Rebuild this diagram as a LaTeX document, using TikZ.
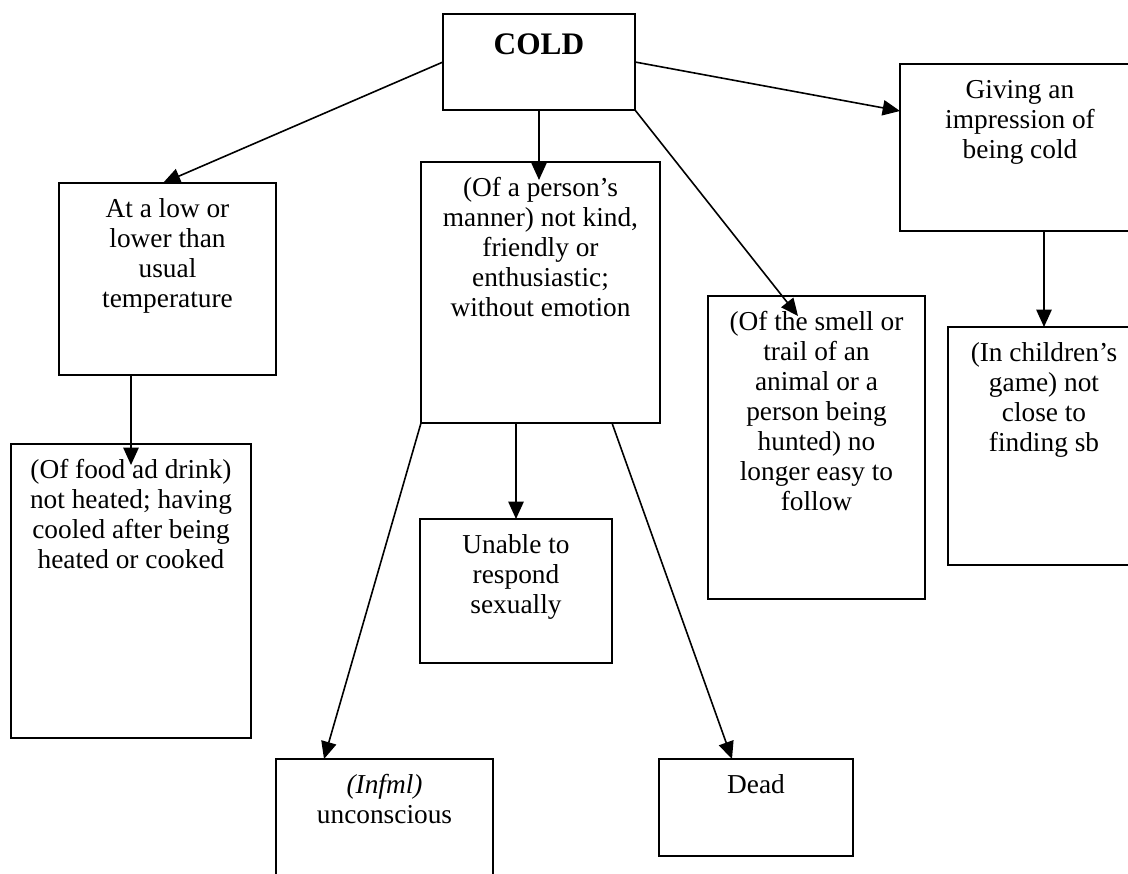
\documentclass[tikz,border=0pt]{standalone}
\usepackage{fontspec}
\setmainfont{Liberation Serif}
\usetikzlibrary{arrows.meta,calc}
\tikzset{
  box/.style={draw, line width=1.2pt, anchor=north west, inner sep=0pt, outer sep=0pt},
  txt/.style={anchor=north, inner sep=0pt, align=center, font=\fontsize{20.5}{22.5}\selectfont},
  arr/.style={line width=1.2pt, -{Triangle[length=13pt,width=11.5pt]}},
}
\begin{document}
\begin{tikzpicture}[x=0.75pt,y=-0.75pt]
\useasboundingbox (0,0) rectangle (1128,874);
\clip (0,0) rectangle (1128,874);
% boxes (px coordinates, top-left corner)
\node[box, minimum width=144pt, minimum height=72pt]      (cold)     at (443,14)  {};
\node[box, minimum width=162.75pt, minimum height=144pt]  (low)      at (59,183)  {};
\node[box, minimum width=179.25pt, minimum height=195.75pt] (manner) at (421,162) {};
\node[box, minimum width=180pt, minimum height=125.25pt]  (giving)   at (900,64)  {};
\node[box, minimum width=162.75pt, minimum height=227.25pt] (smell)  at (708,296) {};
\node[box, minimum width=144pt, minimum height=178.5pt]   (children) at (948,327) {};
\node[box, minimum width=180pt, minimum height=220.5pt]   (food)     at (11,444)  {};
\node[box, minimum width=144pt, minimum height=108pt]     (unable)   at (420,519) {};
\node[box, minimum width=162.75pt, minimum height=105pt]  (infml)    at (276,759) {};
\node[box, minimum width=145.5pt, minimum height=72.75pt] (dead)     at (659,759) {};
% texts
\node[anchor=base, inner sep=0pt, font=\fontsize{23.5}{27}\selectfont\bfseries] (coldT) at ([yshift=-30.75pt]cold.north) {COLD};
\node[txt] (lowT) at ([yshift=-9.75pt]low.north) {\strut At a low or\\lower than\\usual\\temperature};
\node[txt] (mannerT) at ([yshift=-9.75pt]manner.north) {\strut (Of a person’s\\manner) not kind,\\friendly or\\enthusiastic;\\without emotion};
\node[txt] (givingT) at ([yshift=-9.75pt]giving.north) {\strut Giving an\\impression of\\being cold};
\node[txt] (smellT) at ([yshift=-9.75pt]smell.north) {\strut (Of the smell or\\trail of an\\animal or a\\person being\\hunted) no\\longer easy to\\follow};
\node[txt] (childrenT) at ([yshift=-9.75pt]children.north) {\strut (In children’s\\game) not\\close to\\finding sb};
\node[txt] (foodT) at ([yshift=-9.75pt]food.north) {\strut (Of food ad drink)\\not heated; having\\cooled after being\\heated or cooked};
\node[txt] (unableT) at ([yshift=-9.75pt]unable.north) {\strut Unable to\\respond\\sexually};
\node[txt] (infmlT) at ([yshift=-9.75pt]infml.north) {\strut\textit{(Infml)}\\unconscious};
\node[txt] (deadT) at ([yshift=-9.75pt]dead.north) {\strut Dead};
% connector end points
\coordinate (t1) at (163,183);
\coordinate (t2) at (539,180);
\coordinate (t3) at (798,316);
\coordinate (t4) at (900,111);
\coordinate (t6) at (131,465);
\coordinate (t8) at (324,759);
\coordinate (s9) at (612,423);
\coordinate (t9) at (732,759);
% connectors
\draw[arr] (cold.west) -- (t1);
\draw[arr] (cold.south) -- (t2);
\draw[arr] (cold.south east) -- (t3);
\draw[arr] (cold.east) -- (t4);
\draw[arr] (giving.south -| children.north) -- (children.north);
\draw[arr] (low.south -| t6) -- (t6);
\draw[arr] (manner.south -| unable.north) -- (unable.north);
\draw[arr] (manner.south west) -- (t8);
\draw[arr] (s9) -- (t9);
\end{tikzpicture}
\end{document}
